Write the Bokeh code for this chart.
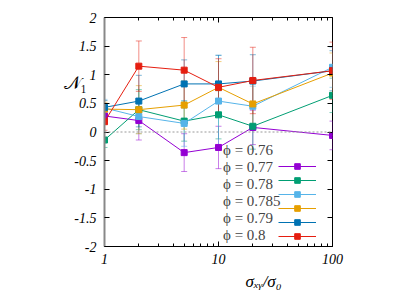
import numpy as np
from bokeh.plotting import figure
from bokeh.models import (ColumnDataSource, Whisker, TeeHead, Span, Label, Legend, LegendItem,
                          FixedTicker, LinearAxis, LogAxis, Range1d)
from bokeh.embed import file_html
from bokeh.resources import INLINE

# ---- data ----
sigma_ratio = [1, 2, 5, 10, 20, 100]
phi_labels = ["0.76", "0.77", "0.78", "0.785", "0.79", "0.8"]

n1_076 = [0.28, 0.20, -0.36, -0.27, 0.08, -0.06]
n1_077 = [-0.14, 0.39, 0.19, 0.30, 0.10, 0.64]
n1_078 = [0.42, 0.27, 0.15, 0.54, 0.45, 1.13]
n1_0785 = [0.40, 0.39, 0.47, 0.78, 0.49, 1.03]
n1_079 = [0.43, 0.54, 0.84, 0.84, 0.89, 1.07]
n1_080 = [0.18, 1.15, 1.08, 0.78, 0.90, 1.07]

err_076 = [0.12, 0.34, 0.33, 0.37, 0.30, 0.25]
err_077 = [0.13, 0.35, 0.35, 0.42, 0.40, 0.30]
err_078 = [0.15, 0.30, 0.40, 0.80, 0.35, 0.35]
err_0785 = [0.12, 0.42, 0.42, 0.45, 0.40, 0.35]
err_079 = [0.12, 0.45, 0.42, 0.50, 0.46, 0.35]
err_080 = [0.15, 0.44, 0.57, 0.50, 0.58, 0.50]

y_ticks = [-2, -1.5, -1, -0.5, 0, 0.5, 1, 1.5, 2]
y_tick_labels = ["-2", "-1.5", "-1", "-0.5", "0", "0.5", "1", "1.5", "2"]
x_ticks = [1, 10, 100]
x_tick_labels = ["1", "10", "100"]
x_minor_ticks = [2, 3, 4, 5, 6, 7, 8, 9, 20, 30, 40, 50, 60, 70, 80, 90]

x_title = "σₓᵧ/σ₀"
y_title = "𝒩₁"

colors = ["#9400d3", "#009e73", "#56b4e9", "#e69f00", "#0072b2", "#e51e10"]
series = [n1_076, n1_077, n1_078, n1_0785, n1_079, n1_080]
errors = [err_076, err_077, err_078, err_0785, err_079, err_080]

SERIF = "Liberation Serif"

p = figure(width=410, height=290, x_axis_type="log",
           x_range=Range1d(1, 100), y_range=Range1d(-2, 2),
           output_backend="svg", toolbar_location=None,
           min_border_left=104, min_border_right=78,
           min_border_top=17, min_border_bottom=44)
p.grid.visible = False
p.outline_line_color = "black"
p.outline_line_width = 1
p.background_fill_color = "white"
p.border_fill_color = "white"

# zero line
p.add_layout(Span(location=0, dimension="width", line_color="#999999",
                  line_dash="2 2", line_width=1))

line_rs = []
mark_rs = []
for vals, errs, c in zip(series, errors, colors):
    v = np.array(vals, dtype=float)
    e = np.array(errs, dtype=float)
    src = ColumnDataSource(dict(x=sigma_ratio, y=v, upper=v + e, lower=v - e))
    w = Whisker(source=src, base="x", upper="upper", lower="lower", dimension="height",
                line_color=c, line_alpha=0.5, line_width=1,
                upper_head=TeeHead(size=6, line_color=c, line_alpha=0.5, line_width=1),
                lower_head=TeeHead(size=6, line_color=c, line_alpha=0.5, line_width=1))
    p.add_layout(w)
    lr = p.line("x", "y", source=src, line_color=c, line_width=1)
    mr = p.scatter("x", "y", source=src, marker="square", size=6,
                   fill_color=c, line_color=c)
    line_rs.append(lr)
    mark_rs.append(mr)

# axes
def style_axis(ax, ticks, labels, minor=None, line_color=None, lw=1, show_labels=True):
    ax.ticker = FixedTicker(ticks=ticks, minor_ticks=minor or [])
    ax.major_label_overrides = {t: l for t, l in zip(ticks, labels)}
    ax.major_tick_in = 5
    ax.major_tick_out = 0
    ax.minor_tick_in = 3
    ax.minor_tick_out = 0
    ax.major_tick_line_color = "black"
    ax.minor_tick_line_color = "black" if minor else None
    ax.axis_line_color = line_color
    ax.axis_line_width = lw
    ax.major_label_text_font = SERIF
    ax.major_label_text_font_style = "italic"
    if show_labels:
        ax.major_label_text_font_size = "14px"
        ax.major_label_text_color = "black"
    else:
        ax.major_label_text_font_size = "2px"
        ax.major_label_text_color = None
        ax.major_label_standoff = 0

yl = p.yaxis[0]
style_axis(yl, y_ticks, y_tick_labels, line_color="#888888", lw=2)
yl.major_label_standoff = 8
xb = p.xaxis[0]
style_axis(xb, x_ticks, x_tick_labels, minor=x_minor_ticks, line_color="black")
xb.major_label_standoff = 7

# mirrored tick marks on the right and top borders (labels not painted)
yr = LinearAxis()
style_axis(yr, y_ticks, y_tick_labels, show_labels=False)
p.add_layout(yr, "right")
xt = LogAxis()
style_axis(xt, x_ticks, x_tick_labels, minor=x_minor_ticks, show_labels=False)
p.add_layout(xt, "above")

# legends: one multi-line text block, one column of samples to its right
legend_text = "\n".join("ϕ = " + s for s in phi_labels)
leg_text = Legend(items=[LegendItem(label=legend_text, renderers=[line_rs[0]])],
                  location=(119, 2), glyph_width=0, glyph_height=14,
                  label_standoff=0, spacing=0, padding=0, margin=0,
                  border_line_color=None, background_fill_alpha=0,
                  label_text_font=SERIF, label_text_font_size="15px",
                  label_text_line_height=0.8)
sample_items = [LegendItem(label="", renderers=[lr, mr]) for lr, mr in zip(line_rs, mark_rs)]
leg_samp = Legend(items=sample_items, location=(174, 3), glyph_width=38, glyph_height=14,
                  label_standoff=0, label_width=0, label_height=0, spacing=0, padding=0, margin=0,
                  border_line_color=None, background_fill_alpha=0,
                  label_text_font=SERIF, label_text_font_size="8px")
p.add_layout(leg_text)
p.add_layout(leg_samp)

# axis titles as labels in the side panels
p.add_layout(Label(text=y_title, x=15, y=164, x_units="screen", y_units="screen",
                   text_font=SERIF, text_font_size="18px", text_baseline="alphabetic",
                   text_align="left", text_color="black"), "left")
p.add_layout(Label(text=x_title, x=141, y=4, x_units="screen", y_units="screen",
                   text_font=SERIF, text_font_size="17px", text_font_style="italic",
                   text_baseline="alphabetic", text_align="left", text_color="black"), "below")

open("out.html", "w").write(file_html(p, INLINE))
